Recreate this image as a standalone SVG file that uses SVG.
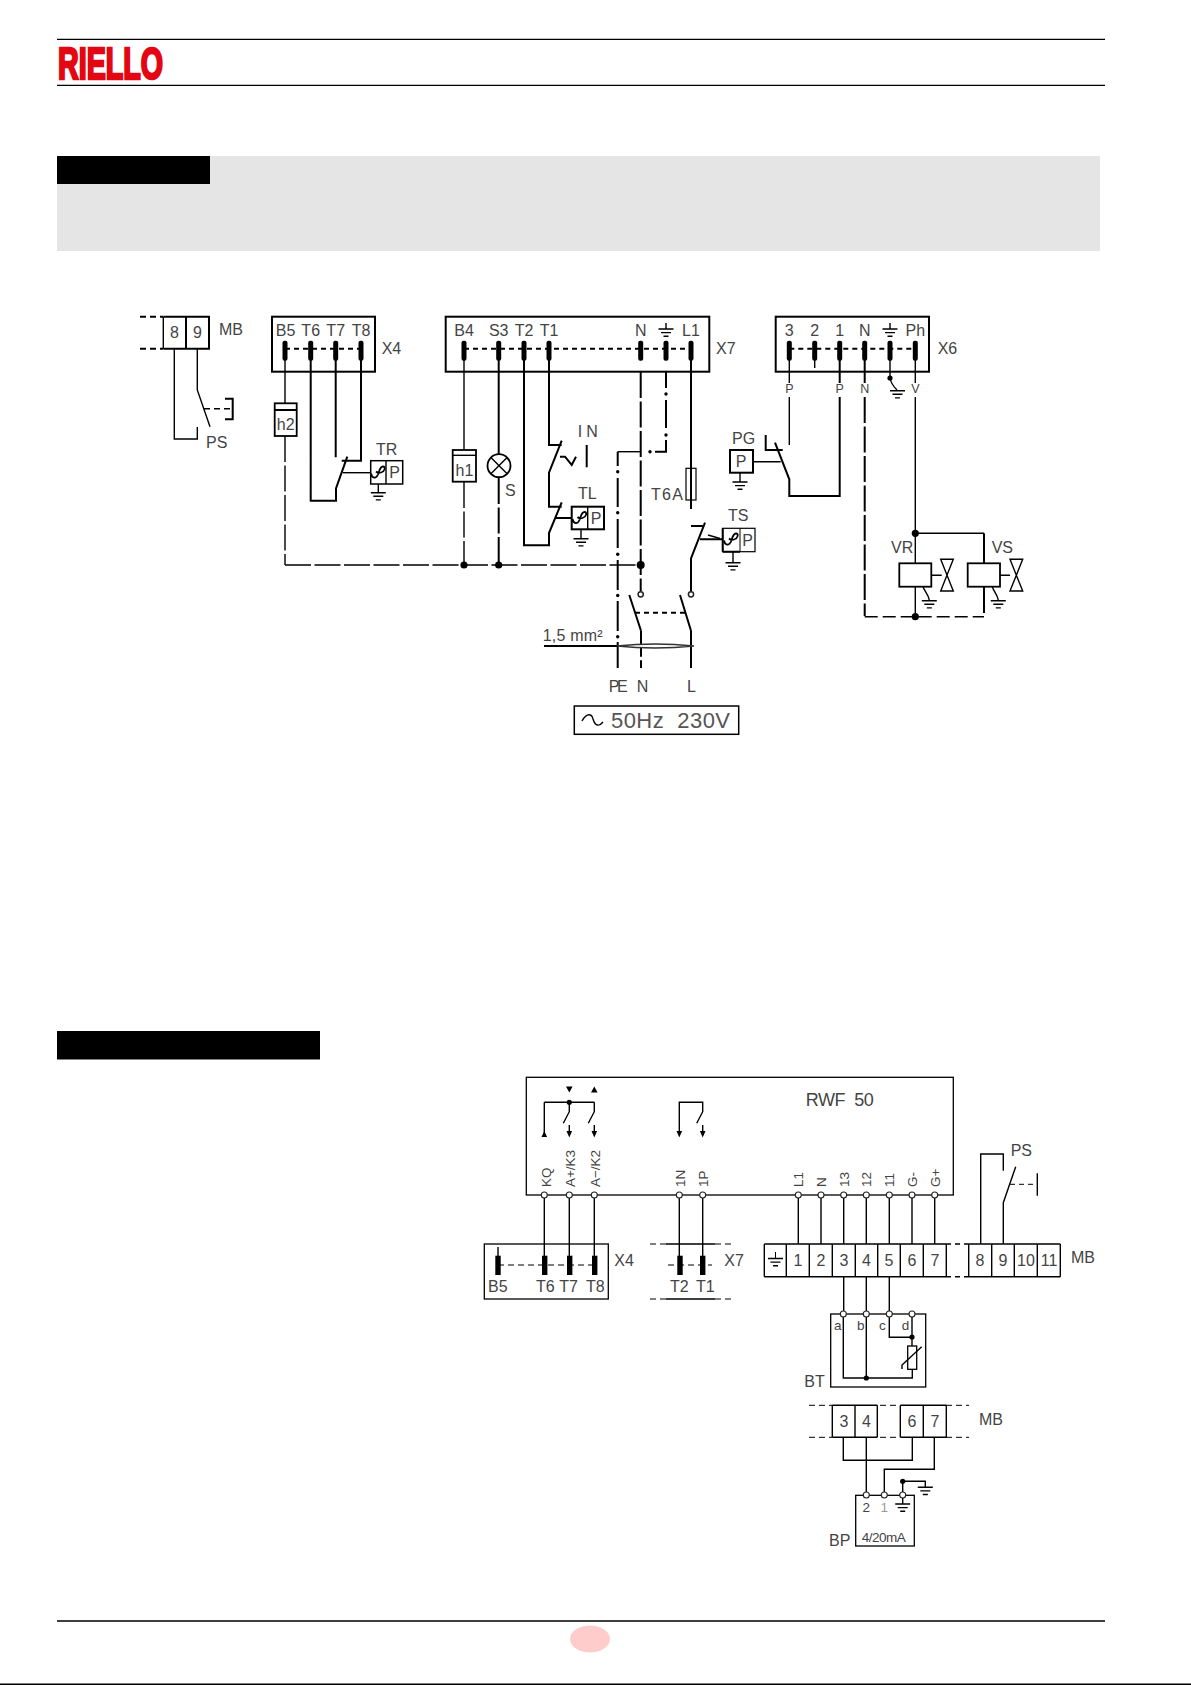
<svg xmlns="http://www.w3.org/2000/svg" width="1191" height="1685" viewBox="0 0 1191 1685">
<style>
text{font-family:"Liberation Sans",Arial,sans-serif;fill:#444}
.l{font-size:16px}.c{text-anchor:middle}.s{font-size:12.5px}.m{font-size:13.5px}
text.logo{font-weight:700;font-size:44px;fill:#e30613;stroke:#e30613;stroke-width:2.6px}
.w,.t,.k,.b{fill:none;stroke:#000;stroke-linecap:butt}
.t{stroke-width:1}.w{stroke-width:1.4}.k{stroke-width:2}.b{fill:#fff;stroke-width:1.8}
.f{fill:#fff;stroke:#000;stroke-width:1.2}
.d{stroke-dasharray:26 3.5}.dl{stroke-dasharray:13 5}.ds{stroke-dasharray:6 4}.dd{stroke-dasharray:5 4}
.pin{fill:#000}.dot{fill:#000}.o{fill:#fff;stroke:#222;stroke-width:1.1}
.gl{fill:none;stroke:#000;stroke-width:1.4}
.th{fill:none;stroke:#000;stroke-width:1.8}
</style>
<defs>
<g id="gnd"><path class="gl" d="M-7.5 0H7.5M-5 3.6H5M-2.5 7.2H2.5"/></g>
<path id="theta" class="th" d="M-7 1C-6 6-2 6.5 0 2C1.500-2 2-6 5-6C8-6 7-1 3 0C1 .6-1 0-2-1"/>
</defs>
<g id="page">
<rect width="1191" height="1685" fill="#fff"/>
<path d="M57 39.4H1105M57 85.4H1105M57 1621H1105" stroke="#000" stroke-width="1.3"/>
<path d="M0 1684.2H1191" stroke="#000" stroke-width="1.5"/>
<text class="logo" x="58" y="78.800" textLength="105" lengthAdjust="spacingAndGlyphs">RIELLO</text>
<rect x="57" y="156" width="1043" height="95" fill="#e5e5e5"/>
<rect x="57" y="156" width="153" height="28" fill="#000"/>
<rect x="57" y="1031" width="263" height="28.500" fill="#000"/>
<ellipse cx="590" cy="1639" rx="20" ry="13.5" fill="#ffcccc"/>
</g>

<g id="connectors">
<!-- upper: MB / PS -->
<path class="w" d="M174.3 348.7V439H197.3V427M197.3 348.7V390L210 426.7"/>
<path class="w ds" d="M204 408.7H232"/>
<path class="k" d="M225 398.7H232.7V419.3H225"/>
<!-- X4 -->
<path class="w" d="M285 360V403"/>
<path class="w d" d="M285 436V565"/>
<path class="w d" d="M285 565H640"/>
<path class="k" d="M310.7 360V500.7H336V488.3L347.3 456.7M335.7 360V457.3M361 360V460.7H341.7"/>
<path class="w" d="M342.7 472.7H370.7"/>
<!-- X7 -->
<path class="w" d="M464 360V450"/>
<path class="w d" d="M464 482V565"/>
<path class="k" d="M498.7 360V454"/>
<path class="k d" d="M498.7 478V565"/>
<path class="k" d="M524 360V545.3H549V533L561.7 502.3M549 360V445H561.7M561.7 440.7L549 472.7V506.7H561.7M554.7 518H571.7"/>
<path class="k" d="M586.7 445V467.3M560 456.7H565L571.7 465L576 456.7"/>
<path class="k d" d="M640.7 372V591M641 630.7V668"/>
<path class="k" d="M666 372V388M666 400V428M666 440V451.7H655M617.700 466V451.7M617.7 478V507M617.7 519V548M617.7 560V590M617.7 601V631M617.7 642V668"/>
<path class="w" d="M617.7 451.7H640"/>
<path class="k" d="M691 360V509M691 558.3L705 522.7M691 526H704M691 558.3V591.5M700 539.3H722.7"/>
<path class="w" d="M708 535L720 538.500"/>
<path class="k" d="M629.3 595L641 630.7M680 595L691 630.7M691 630.7V668"/>
<path class="k dd" d="M635 612.7H685"/>
<path class="k" d="M544 646H617.7"/>
<path d="M617 646Q655 642 694 646Q655 650 617 646Z" fill="#fff" stroke="#333" stroke-width="1.5"/>
<path class="w" d="M582 721C587 712 592 714 593 719C595 726 599 727 603 722"/>
<!-- X6 -->
<path class="w" d="M789.3 360V383M789.3 397V445M814.7 360V368M915.3 360V383M915.3 397V563.3M915.3 533.3H984"/>
<path class="k" d="M839.7 360V383M839.7 397V496H789.3V479.3L775 442.7M864.7 360V383M765.7 435V450H782.7M984 533.3V563.3"/>
<path class="w" d="M753 461.7H780.7M890 360V378"/>
<path class="k d" d="M864.7 397V616"/>
<path class="k d" d="M984 587V616"/>
<path class="w dl" d="M864.7 616.7H984"/>
<path class="w d" d="M915.3 587V616.7"/>
<path class="w" d="M890 378C891 384 894 387 897 390"/>
<path class="w" d="M931.3 575.3H941.7M1000 575.3H1010M923 586.7C925 592 928 594 929.3 600M992.3 586.7C994 592 997 594 998.3 600"/>
<!-- lower: RWF -->
<path class="w" d="M544.3 1102.3H594.3M544.3 1102.3V1133M569.3 1102.3V1111.7L563.3 1123.3M594.3 1102.3V1111.7L588.3 1123.3M569.3 1125V1134M594.3 1125V1134M679.3 1134V1102.3H702.7V1111.7L696.7 1123.3M702.7 1125V1134"/>
<path class="w" d="M544.3 1198V1256M569.3 1198V1256M594.3 1198V1256M679.3 1198V1256M702.7 1198V1256M798.3 1198V1244M821 1198V1244M843.7 1198V1244M866.3 1198V1244M889.3 1198V1244M912 1198V1244M934.7 1198V1244"/>
<path class="w" d="M980.7 1244V1154H1003.3V1170.7M1003.3 1244V1202.7L1015.7 1166.7"/>
<path class="t dd" d="M1010 1184.3H1037"/>
<path class="w" d="M1037.3 1173.3V1195.7"/>
<path class="t ds" d="M498 1265H595M668 1265H712"/>
<path class="w" d="M498 1247V1256"/>
<!-- BT -->
<path class="w" d="M843.7 1276.7V1311M866.3 1276.7V1311M889.3 1276.7V1311"/>
<path class="w" d="M843.3 1317V1378H912.3V1369.3M866.3 1317V1378M889.3 1317V1337.3H912M912 1317V1346M902 1369V1365L921.7 1346.7"/>
<!-- BP -->
<path class="w" d="M843.3 1437.3V1460.3H912.3V1437.3M866.3 1437.3V1492M934.3 1437.3V1469.3H884.3V1492M902.7 1492V1481.3H925.3V1487.3"/>
</g>

<g id="MB-top">
<path class="k" d="M186 316.7V348.7M163.3 316.7H209V348.7H163.3"/><path class="w" d="M163.3 316.7V348.7"/>
<path class="k ds" d="M140 316.7H163M140 348.7H163"/>
<text class="l c" x="174.5" y="338">8</text><text class="l c" x="197.5" y="338">9</text><text class="l" x="219" y="335">MB</text>
<text class="l" x="206" y="448">PS</text>
</g>
<g id="X4-top">
<rect class="k" x="272" y="316.7" width="103" height="55"/>
<path class="k dd" d="M285 348.7H361"/>
<rect class="pin" x="282.5" y="340.7" width="5" height="20" rx="2"/><rect class="pin" x="308.2" y="340.7" width="5" height="20" rx="2"/><rect class="pin" x="333.2" y="340.7" width="5" height="20" rx="2"/><rect class="pin" x="358.5" y="340.7" width="5" height="20" rx="2"/>
<text class="l c" x="285.5" y="336">B5</text><text class="l c" x="310.7" y="336">T6</text><text class="l c" x="335.7" y="336">T7</text><text class="l c" x="361" y="336">T8</text>
<text class="l" x="381.7" y="354">X4</text>
</g>
<g id="h2"><rect class="b" x="274.7" y="403.3" width="22" height="32.7"/><path class="k" d="M274.7 410H296.7"/><text class="l c" x="285.7" y="430">h2</text></g>
<g id="TR">
<rect class="f" x="370.7" y="460.7" width="32" height="23.3" style="stroke-width:1.5"/><path class="w" d="M386 460.7V484M378.3 484V492.7"/>
<use href="#theta" x="378" y="472.5"/><use href="#gnd" x="378.3" y="492.7"/>
<text class="l c" x="394.5" y="478">P</text><text class="l" x="376" y="455">TR</text>
</g>
<g id="X7-top">
<rect class="k" x="445.7" y="316.7" width="263.6" height="55"/>
<path class="k dd" d="M464 348.7H691"/>
<rect class="pin" x="461.5" y="340.7" width="5" height="20" rx="2"/><rect class="pin" x="496.2" y="340.7" width="5" height="20" rx="2"/><rect class="pin" x="521.5" y="340.7" width="5" height="20" rx="2"/><rect class="pin" x="546.5" y="340.7" width="5" height="20" rx="2"/><rect class="pin" x="638.2" y="340.7" width="5" height="20" rx="2"/><rect class="pin" x="663.5" y="340.7" width="5" height="20" rx="2"/><rect class="pin" x="688.5" y="340.7" width="5" height="20" rx="2"/>
<text class="l c" x="464" y="336">B4</text><text class="l c" x="498.7" y="336">S3</text><text class="l c" x="524" y="336">T2</text><text class="l c" x="549" y="336">T1</text><text class="l c" x="640.7" y="336">N</text><text class="l c" x="691" y="336">L1</text>
<path class="w" d="M666 323V329"/><use href="#gnd" x="666" y="329"/>
<text class="l" x="716" y="354">X7</text>
</g>
<g id="h1"><rect class="b" x="452.7" y="450" width="23.3" height="31.7"/><path class="w" d="M452.7 455.3H476"/><text class="l c" x="464.5" y="476">h1</text></g>
<g id="S"><circle cx="499" cy="465.7" r="11.5" fill="#fff" stroke="#000" stroke-width="1.8"/><path class="w" d="M490.9 457.6L507.1 473.8M507.1 457.6L490.9 473.8"/><text class="l" x="505" y="496">S</text></g>
<g id="IN"><text class="l" x="577.7" y="436.7" textLength="20">I N</text></g>
<g id="TL">
<rect class="k" x="571.7" y="506.7" width="32.3" height="22.6" style="fill:#fff"/><path class="w" d="M587.7 506.7V529.3M581 529.3V538.7"/>
<use href="#theta" x="579.5" y="518"/><use href="#gnd" x="581" y="538.7"/>
<text class="l c" x="596" y="524">P</text><text class="l" x="578" y="499">TL</text>
</g>
<g id="T6A"><rect x="686" y="468.3" width="10" height="31.7" fill="none" stroke="#000" stroke-width="1.200"/><text class="l" x="651" y="500" textLength="32">T6A</text></g>
<g id="TS">
<rect class="f" x="722.7" y="528.3" width="32.3" height="23.4"/><path class="k" d="M722.7 528.3V551.7M722.7 551.7H740"/><path class="t" d="M740 528.3V551.7"/><path class="w" d="M733 551.7V562.7"/>
<use href="#theta" x="731" y="539.5"/><use href="#gnd" x="733" y="562.7"/>
<text class="l c" x="747.5" y="545.5">P</text><text class="l" x="728" y="520.7">TS</text>
</g>
<g id="mains">
<circle class="dot" cx="464" cy="565" r="3.6"/><circle class="dot" cx="498.7" cy="565" r="3.6"/><circle class="dot" cx="640.7" cy="565" r="4"/>
<circle class="dot" cx="666" cy="394" r="1.7"/><circle class="dot" cx="666" cy="435" r="1.7"/><circle class="dot" cx="650" cy="451.7" r="1.7"/>
<circle class="dot" cx="617.7" cy="471.7" r="1.7"/><circle class="dot" cx="617.7" cy="512.7" r="1.7"/><circle class="dot" cx="617.7" cy="554.2" r="1.7"/><circle class="dot" cx="617.7" cy="595.5" r="1.7"/><circle class="dot" cx="617.7" cy="636.7" r="1.7"/>
<circle class="o" cx="640.7" cy="594.3" r="2.6" style="stroke-width:1.5"/><circle class="o" cx="691" cy="594.3" r="2.6" style="stroke-width:1.5"/>
<text class="l" x="542.7" y="641" textLength="60">1,5  mm²</text>
<text class="l" x="608.7" y="692.3" textLength="19">PE</text><text class="l" x="636.7" y="692.3">N</text><text class="l" x="687" y="692.3">L</text>
<rect x="574.3" y="706" width="164.4" height="28.3" fill="none" stroke="#000" stroke-width="1.5"/>
<text x="611" y="728" style="font-size:22px;fill:#555" textLength="119" xml:space="preserve">50Hz  230V</text>
</g>
<g id="X6-top">
<rect class="k" x="775.7" y="316.7" width="153.3" height="55"/>
<path class="k dd" d="M789.3 348.7H915.3"/>
<rect class="pin" x="786.8" y="340.7" width="5" height="20" rx="2"/><rect class="pin" x="812.2" y="340.7" width="5" height="20" rx="2"/><rect class="pin" x="837.2" y="340.7" width="5" height="20" rx="2"/><rect class="pin" x="862.2" y="340.7" width="5" height="20" rx="2"/><rect class="pin" x="887.5" y="340.7" width="5" height="20" rx="2"/><rect class="pin" x="912.8" y="340.7" width="5" height="20" rx="2"/>
<text class="l c" x="789.3" y="336">3</text><text class="l c" x="814.7" y="336">2</text><text class="l c" x="839.7" y="336">1</text><text class="l c" x="864.7" y="336">N</text><text class="l c" x="915.3" y="336">Ph</text>
<path class="w" d="M890 323V329"/><use href="#gnd" x="890" y="329"/>
<text class="l" x="937.7" y="354">X6</text>
<text class="s c" x="789.3" y="392.5">P</text><text class="s c" x="839.7" y="392.5">P</text><text class="s c" x="864.7" y="392.5">N</text><text class="s c" x="915.3" y="392.5">V</text>
<circle class="dot" cx="890" cy="378" r="2.6"/><use href="#gnd" x="897.5" y="390.7"/>
</g>
<g id="PG">
<rect class="k" x="730" y="450" width="23" height="22.7" style="fill:#fff"/><path class="w" d="M740 472.7V482"/><use href="#gnd" x="740" y="482"/>
<text class="l c" x="741" y="467">P</text><text class="l" x="732" y="444">PG</text>
</g>
<g id="VR">
<rect class="b" x="899.3" y="563.3" width="32" height="23.4"/>
<path d="M940.7 559.3H953.3L940.7 591H953.3Z" fill="#fff" stroke="#000" stroke-width="1.4"/>
<use href="#gnd" x="929.3" y="600.7"/><text class="l" x="891" y="553">VR</text>
</g>
<g id="VS">
<rect class="b" x="967.7" y="563.3" width="32.3" height="23.4"/>
<path d="M1010 559.3H1022.7L1010 591H1022.7Z" fill="#fff" stroke="#000" stroke-width="1.4"/>
<use href="#gnd" x="998.3" y="600.7"/><text class="l" x="991.7" y="553">VS</text>
</g>
<g id="valve-nodes"><circle class="dot" cx="915.3" cy="533.3" r="3.6"/><circle class="dot" cx="915.3" cy="616.7" r="3.6"/></g>

<g id="RWF50">
<rect x="526.3" y="1077.3" width="427" height="117.7" fill="none" stroke="#000" stroke-width="1.3"/>
<text x="805.7" y="1105.7" style="font-size:18px" textLength="68" xml:space="preserve">RWF  50</text>
<path class="dot" d="M566 1086.500H572.600L569.3 1092.500ZM591 1092.500H597.600L594.3 1086.500ZM541.500 1137H547.100L544.300 1131Z"/>
<path class="dot" d="M566.500 1131H572.100L569.3 1137.500ZM591.500 1131H597.100L594.3 1137.500ZM676.500 1131H682.100L679.3 1137.500ZM699.900 1131H705.500L702.700 1137.500Z"/>
<circle class="dot" cx="569.3" cy="1102.3" r="2.6"/>
<g id="rwf-pins">
<circle class="o" cx="544.3" cy="1195" r="3"/><circle class="o" cx="569.3" cy="1195" r="3"/><circle class="o" cx="594.3" cy="1195" r="3"/><circle class="o" cx="679.3" cy="1195" r="3"/><circle class="o" cx="702.7" cy="1195" r="3"/><circle class="o" cx="798.3" cy="1195" r="3"/><circle class="o" cx="821" cy="1195" r="3"/><circle class="o" cx="843.7" cy="1195" r="3"/><circle class="o" cx="866.3" cy="1195" r="3"/><circle class="o" cx="889.3" cy="1195" r="3"/><circle class="o" cx="912" cy="1195" r="3"/><circle class="o" cx="934.7" cy="1195" r="3"/>
</g>
<text class="m" transform="translate(550.7 1187) rotate(-90)">KQ</text>
<text class="m" transform="translate(574.7 1187) rotate(-90)" textLength="37">A+/K3</text>
<text class="m" transform="translate(599.7 1187) rotate(-90)" textLength="37">A−/K2</text>
<text class="m" transform="translate(684.5 1187) rotate(-90)">1N</text>
<text class="m" transform="translate(707.5 1187) rotate(-90)">1P</text>
<text class="m" transform="translate(803 1187) rotate(-90)">L1</text>
<text class="m" transform="translate(825.5 1187) rotate(-90)">N</text>
<text class="m" transform="translate(848.5 1187) rotate(-90)">13</text>
<text class="m" transform="translate(871 1187) rotate(-90)">12</text>
<text class="m" transform="translate(894 1187) rotate(-90)">11</text>
<text class="m" transform="translate(916.5 1187) rotate(-90)">G-</text>
<text class="m" transform="translate(939.5 1187) rotate(-90)">G+</text>
</g>
<g id="X4-low">
<rect x="484.3" y="1244" width="124" height="55" fill="none" stroke="#000" stroke-width="1.3"/>
<rect class="pin" x="495.3" y="1255.7" width="5.4" height="19.3"/><rect class="pin" x="542" y="1255.7" width="5.4" height="19.3"/><rect class="pin" x="567" y="1255.7" width="5.4" height="19.3"/><rect class="pin" x="592" y="1255.7" width="5.4" height="19.3"/>
<text class="l" x="488" y="1292.3">B5</text><text class="l" x="536" y="1292.3">T6</text><text class="l" x="559.3" y="1292.3">T7</text><text class="l" x="586" y="1292.3">T8</text>
<text class="l" x="614.3" y="1266">X4</text>
</g>
<g id="X7-low">
<path class="w" d="M666 1244H715M666 1299H715"/><path class="t ds" d="M650 1244H666M715 1244H731M650 1299H666M715 1299H731"/>
<rect class="pin" x="677.3" y="1255.7" width="5.4" height="19.3"/><rect class="pin" x="700" y="1255.7" width="5.4" height="19.3"/>
<text class="l" x="670" y="1292.3">T2</text><text class="l" x="696" y="1292.3">T1</text><text class="l" x="724.3" y="1266">X7</text>
</g>
<g id="MB-low">
<path class="w" d="M764.3 1244H951M764.3 1276.7H951M964 1244H1060.3M964 1276.7H1060.3M764.3 1244V1276.7M786.3 1244V1276.7M809.3 1244V1276.7M832.3 1244V1276.7M855.3 1244V1276.7M877.7 1244V1276.7M900.3 1244V1276.7M923.3 1244V1276.7M946.3 1244V1276.7M968.7 1244V1276.7M991.7 1244V1276.7M1014.3 1244V1276.7M1037.3 1244V1276.7M1060.3 1244V1276.7"/>
<path class="w" d="M955 1244H960M955 1276.7H960"/>
<path class="t" d="M775.5 1252V1258"/><use href="#gnd" x="775.5" y="1258.5"/>
<text class="l c" x="798" y="1266">1</text><text class="l c" x="821" y="1266">2</text><text class="l c" x="844" y="1266">3</text><text class="l c" x="866.5" y="1266">4</text><text class="l c" x="889" y="1266">5</text><text class="l c" x="912" y="1266">6</text><text class="l c" x="935" y="1266">7</text><text class="l c" x="980" y="1266">8</text><text class="l c" x="1003" y="1266">9</text><text class="l c" x="1026" y="1266">10</text><text class="l c" x="1049" y="1266">11</text>
<text class="l" x="1071" y="1263">MB</text>
</g>
<g id="PS-low"><text class="l" x="1010.7" y="1156">PS</text></g>
<g id="BT">
<rect x="830.7" y="1314" width="95" height="73" fill="none" stroke="#000" stroke-width="1.3"/>
<rect x="907.7" y="1346" width="9" height="23.3" fill="none" stroke="#000" stroke-width="1.3"/>
<circle class="o" cx="843.3" cy="1314" r="3"/><circle class="o" cx="866.3" cy="1314" r="3"/><circle class="o" cx="889.3" cy="1314" r="3"/><circle class="o" cx="912" cy="1314" r="3"/>
<circle class="dot" cx="866.3" cy="1378" r="2.6"/><circle class="dot" cx="912" cy="1337" r="2.6"/>
<text class="m" x="834" y="1330">a</text><text class="m" x="857" y="1330">b</text><text class="m" x="879" y="1330">c</text><text class="m" x="901.7" y="1330">d</text>
<text class="l" x="804.3" y="1386.7">BT</text>
</g>
<g id="MB-BP">
<path class="w" d="M832.3 1405.3H877.3M832.3 1437.3H877.3M900.3 1405.3H946.3M900.3 1437.3H946.3M832.3 1405.3V1437.3M855 1405.3V1437.3M877.3 1405.3V1437.3M900.3 1405.3V1437.3M923.3 1405.3V1437.3M946.3 1405.3V1437.3"/>
<path class="t ds" d="M809 1405.3H832M809 1437.3H832M946 1405.3H969M946 1437.3H969M880 1405.3H900M880 1437.3H900"/>
<text class="l c" x="844" y="1427">3</text><text class="l c" x="866.5" y="1427">4</text><text class="l c" x="912" y="1427">6</text><text class="l c" x="935" y="1427">7</text>
<text class="l" x="979" y="1425">MB</text>
</g>
<g id="BP">
<rect x="855.7" y="1495.3" width="58.6" height="50.7" fill="none" stroke="#000" stroke-width="1.3"/>
<circle class="o" cx="866.3" cy="1495" r="3"/><circle class="o" cx="884.3" cy="1495" r="3"/><circle class="o" cx="902.7" cy="1495" r="3"/>
<circle class="dot" cx="902.7" cy="1481.3" r="2.6"/><use href="#gnd" x="925.3" y="1487.3"/>
<path class="w" d="M902.7 1498V1504"/><use href="#gnd" x="902.7" y="1504"/>
<text class="m c" x="866.3" y="1512">2</text><text class="m c" x="884.3" y="1512" style="fill:#999">1</text>
<text class="m" x="861.7" y="1541.7" textLength="44">4/20mA</text>
<text class="l" x="829" y="1546">BP</text>
</g>
</svg>
